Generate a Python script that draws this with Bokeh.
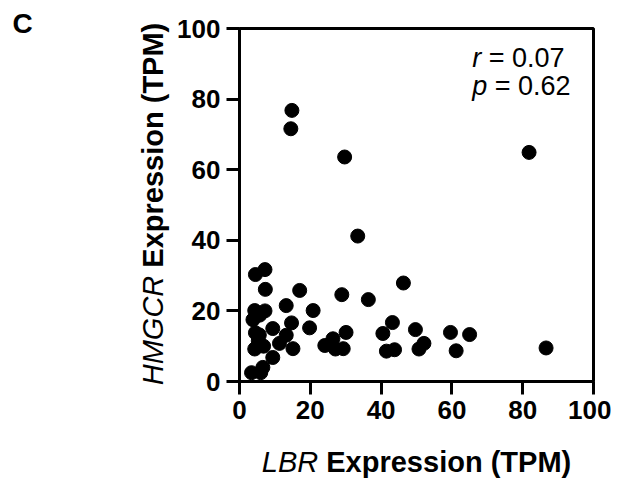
import math
from bokeh.plotting import figure
from bokeh.models import Label, Range1d, FixedTicker
from bokeh.embed import file_html
from bokeh.resources import INLINE

# Data
lbr = [14.8, 14.5, 29.7, 81.8, 33.4, 46.3, 36.4, 28.9, 17.0, 13.2,
       20.8, 19.8, 14.7, 15.1, 13.2, 11.3, 9.4, 9.4, 6.6, 6.0,
       3.4, 4.5, 7.2, 7.3, 4.3, 7.2, 5.7, 3.8, 5.6, 5.3,
       4.3, 6.8, 4.5, 24.1, 26.4, 27.1, 29.3, 30.1, 40.5, 43.2,
       41.5, 43.8, 49.7, 50.7, 52.1, 59.6, 61.2, 65.0, 86.6]
hmgcr = [76.8, 71.6, 63.6, 64.9, 41.2, 27.9, 23.2, 24.6, 25.8, 21.5,
         20.1, 15.2, 16.6, 9.3, 13.1, 10.8, 15.0, 6.8, 4.0, 2.5,
         2.5, 30.3, 31.7, 26.1, 20.1, 20.0, 18.8, 17.5, 13.2, 11.5,
         9.2, 10.0, 13.8, 10.2, 12.1, 9.2, 9.3, 13.9, 13.6, 16.7,
         8.6, 9.0, 14.7, 9.2, 10.8, 13.9, 8.7, 13.3, 9.5]
tick_values = [0, 20, 40, 60, 80, 100]
r_text = "= 0.07"
p_text = "= 0.62"

W, H = 611, 478
ML, MR, MT, MB = 239, 18, 28, 97
FW, FH = W - ML - MR, H - MT - MB
pxx = FW / 100.0
pxy = FH / 100.0
FONT = "Liberation Sans"

p = figure(width=W, height=H, output_backend="svg", toolbar_location=None,
           x_range=Range1d(0, 100), y_range=Range1d(0, 100),
           min_border_left=ML, min_border_right=MR, min_border_top=MT,
           min_border_bottom=MB)
p.background_fill_color = "white"
p.border_fill_color = "white"
p.outline_line_color = "black"
p.outline_line_width = 3
p.grid.visible = False

for ax in (p.xaxis, p.yaxis):
    ax.ticker = FixedTicker(ticks=tick_values)
    ax.axis_line_width = 3
    ax.axis_line_color = "black"
    ax.major_tick_line_width = 3
    ax.major_tick_line_color = "black"
    ax.major_tick_out = 13
    ax.major_tick_in = 0
    ax.minor_tick_line_color = None
    ax.major_label_text_font = FONT
    ax.major_label_text_font_style = "bold"
    ax.major_label_text_font_size = "26px"
    ax.major_label_text_color = "black"
    ax.major_label_standoff = 6
    ax.axis_label = None

p.scatter(lbr, hmgcr, size=14, color="black")

F = 29
SH = 0.37  # empirical baseline correction (fraction of font size)
cx = ML + FW / 2.0
cy = 203.5

def lab(place, **kw):
    kw.setdefault("text_font", FONT)
    kw.setdefault("text_color", "black")
    kw.setdefault("text_baseline", "alphabetic")
    p.add_layout(Label(x_units="canvas", y_units="canvas", **kw), place)

# x-axis label: italic "LBR" + bold "Expression (TPM)"
wx = (1.945 + 0.278 + 8.446) * F
xb = 472 - SH * F
lab("left", x=cx - wx / 2, y=xb, text="LBR", text_font_style="italic",
    text_font_size=f"{F}px", text_align="left")
lab("below", x=cx + wx / 2, y=xb, text="Expression (TPM)", text_font_style="bold",
    text_font_size=f"{F}px", text_align="right")

# y-axis label
wy = (3.777 + 0.278 + 8.446) * F
yb = 163 - SH * F
lab("left", x=yb, y=cy + wy / 2, text="HMGCR", text_font_style="italic",
    text_font_size=f"{F}px", angle=math.pi / 2, text_align="left")
lab("left", x=yb, y=cy - wy / 2, text="Expression (TPM)", text_font_style="bold",
    text_font_size=f"{F}px", angle=math.pi / 2, text_align="right")

# panel letter
lab("left", x=12, y=33 - SH * 28, text="C", text_font_style="bold", text_font_size="28px",
    text_align="left")

# statistics (inside the frame)
F2 = 27
sx = (471.7 - ML) / pxx
def stat(page_y, text, style, off):
    y = 100 - (page_y - SH * F2 - MT) / pxy
    p.add_layout(Label(x=sx, y=y, x_offset=off, text=text, text_font=FONT,
                       text_font_style=style, text_color="black",
                       text_font_size=f"{F2}px", text_align="left",
                       text_baseline="alphabetic"))
stat(67.3, "r", "italic", 0)
stat(67.3, r_text, "normal", (0.333 + 0.278) * F2)
stat(95.0, "p", "italic", 0)
stat(95.0, p_text, "normal", (0.556 + 0.278) * F2)

open("out.html", "w").write(file_html(p, INLINE))
